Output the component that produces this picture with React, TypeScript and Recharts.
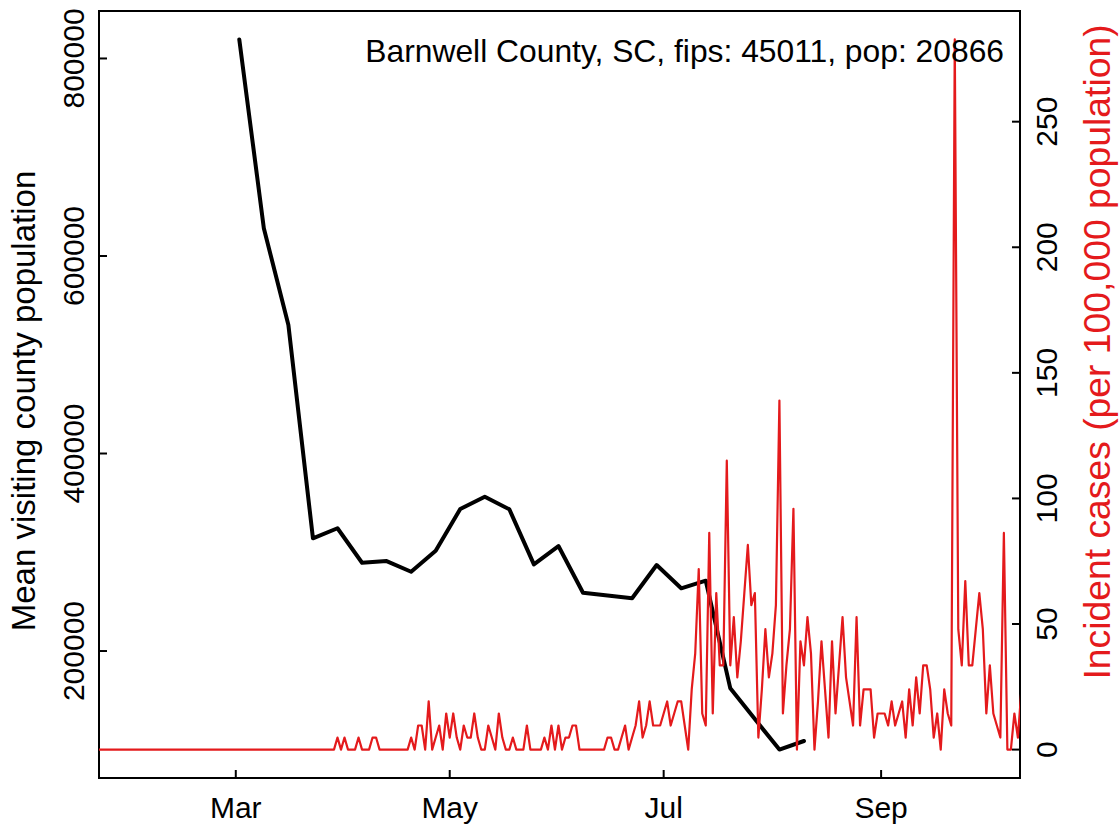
import React from 'react';
import { ComposedChart, Line, XAxis, YAxis, ReferenceArea } from 'recharts';

const FONT = '"Liberation Sans", Arial, Helvetica, sans-serif';
const RED = '#E41A1C';

const POPULATION = 20866;
const TITLE = 'Barnwell County, SC, fips: 45011, pop: 20866';
const LEFT_TITLE = 'Mean visiting county population';
const RIGHT_TITLE = 'Incident cases (per 100,000 population)';

// daily new cases, day 0 = 2020-01-22
const dailyCases: number[] = [
  0, 0, 0, 0, 0, 0, 0, 0, 0, 0,
  0, 0, 0, 0, 0, 0, 0, 0, 0, 0,
  0, 0, 0, 0, 0, 0, 0, 0, 0, 0,
  0, 0, 0, 0, 0, 0, 0, 0, 0, 0,
  0, 0, 0, 0, 0, 0, 0, 0, 0, 0,
  0, 0, 0, 0, 0, 0, 0, 0, 0, 0,
  0, 0, 0, 0, 0, 0, 0, 0,
  1, 0, 1, 0, 0, 0, 1, 0, 0, 0,
  1, 1, 0, 0, 0, 0, 0, 0, 0, 0,
  0, 1, 0, 2, 2, 0, 4, 0, 1, 2,
  0, 3, 1, 3, 1, 0, 2, 1, 1, 3,
  1, 0, 0, 2, 1, 0,
  3, 1, 0, 0, 1, 0, 0, 0, 2, 0,
  0, 0, 0, 1, 0, 2, 0, 2, 0, 1,
  1, 2, 2, 0, 0, 0, 0, 0, 0, 0,
  0, 1, 1, 0, 0, 1, 2, 0, 1, 2,
  4, 1, 2, 4, 2, 2, 2, 3, 4, 2,
  3, 4, 4, 2, 0,
  5, 8, 15, 3, 2, 18, 3, 13, 7, 7,
  24, 7, 11, 6, 9, 13, 17, 12, 13, 1,
  5, 10, 6, 8, 12, 29, 3, 7, 10, 20,
  0, 9, 7, 11, 8, 0, 4, 9, 5, 1,
  9, 3, 7, 11, 6, 4, 2, 11, 2, 5,
  5, 5, 1, 3, 3, 3, 2, 4, 2, 3,
  4, 1, 5, 2, 6, 3, 7, 7, 5, 1,
  3, 0, 5, 3, 2, 59, 10, 7, 14, 7,
  7, 10, 13, 10, 3, 7, 3, 2, 1, 18,
  0, 0, 3, 1, 5,
];

// weekly mean visiting population (weeks starting Mondays, day index from 2020-01-22)
const weekStartDays: number[] = [40, 47, 54, 61, 68, 75, 82, 89, 96, 103, 110, 117, 124, 131, 138, 145, 152, 159, 166, 173, 180, 187, 194, 201];
const meanVisitingPop: number[] = [
  819300, 628100, 530100, 314100, 324300, 289400, 291100, 280300, 301600, 343800,
  356300, 343500, 287800, 306300, 259000, 256200, 253400, 287100, 263500, 271200,
  162200, 131100, 100200, 108900,
];

const monthTickDays: number[] = [39, 100, 161, 223];
const monthTickLabels: string[] = ['Mar', 'May', 'Jul', 'Sep'];
const leftTickValues: number[] = [200000, 400000, 600000, 800000];
const rightTickValues: number[] = [0, 50, 100, 150, 200, 250];
const xDomain: [number, number] = [0, 262.6];

const rows = dailyCases.map((c, i) => {
  const row: { day: number; incidence: number; pop?: number } = {
    day: i,
    incidence: (c * 100000) / POPULATION,
  };
  const w = weekStartDays.indexOf(i);
  if (w >= 0) row.pop = meanVisitingPop[w];
  return row;
});

const popMin = Math.min(...meanVisitingPop);
const popMax = Math.max(...meanVisitingPop);
const popPad = (popMax - popMin) * 0.04;
const leftDomain: [number, number] = [popMin - popPad, popMax + popPad];

const incMax = Math.max(...rows.map((r) => r.incidence));
const rightDomain: [number, number] = [-incMax * 0.04, incMax * 1.04];

const W = 1119;
const H = 827;
const PLOT_LEFT = 99;
const PLOT_RIGHT = 1020;
const PLOT_TOP = 11;
const PLOT_BOTTOM = 778;
const TICK_LEN = 8;
const TICK_FONT = 30;

const BottomTick = (props: any) => {
  const { x, payload } = props;
  const idx = monthTickDays.indexOf(payload.value);
  return (
    <g>
      <line x1={x} x2={x} y1={PLOT_BOTTOM} y2={PLOT_BOTTOM - TICK_LEN} stroke="#000" strokeWidth={2} />
      <text x={x} y={818} textAnchor="middle" fontSize={TICK_FONT} fontFamily={FONT} fill="#000">
        {idx >= 0 ? monthTickLabels[idx] : ''}
      </text>
    </g>
  );
};

const LeftTick = (props: any) => {
  const { y, payload } = props;
  const tx = 84;
  return (
    <g>
      <line x1={PLOT_LEFT} x2={PLOT_LEFT + TICK_LEN} y1={y} y2={y} stroke="#000" strokeWidth={2} />
      <text x={tx} y={y} transform={`rotate(-90 ${tx} ${y})`} textAnchor="middle" fontSize={TICK_FONT} fontFamily={FONT} fill="#000">
        {String(payload.value)}
      </text>
    </g>
  );
};

const RightTick = (props: any) => {
  const { y, payload } = props;
  const tx = 1057;
  return (
    <g>
      <line x1={PLOT_RIGHT} x2={PLOT_RIGHT - TICK_LEN} y1={y} y2={y} stroke="#000" strokeWidth={2} />
      <text x={tx} y={y} transform={`rotate(-90 ${tx} ${y})`} textAnchor="middle" fontSize={TICK_FONT} fontFamily={FONT} fill="#000">
        {String(payload.value)}
      </text>
    </g>
  );
};

export default function App() {
  return (
    <div style={{ position: 'absolute', left: 0, top: 0, width: W, height: H, background: '#fff' }}>
      <ComposedChart
        width={W}
        height={H}
        data={rows}
        margin={{ top: PLOT_TOP, right: 0, bottom: 0, left: 0 }}
      >
        <XAxis
          dataKey="day"
          type="number"
          domain={xDomain}
          allowDataOverflow
          ticks={monthTickDays}
          interval={0}
          tick={(p: any) => <BottomTick {...p} />}
          tickLine={false}
          axisLine={false}
          height={H - PLOT_BOTTOM}
        />
        <YAxis
          yAxisId="left"
          type="number"
          domain={leftDomain}
          allowDataOverflow
          ticks={leftTickValues}
          interval={0}
          tick={(p: any) => <LeftTick {...p} />}
          tickLine={false}
          axisLine={false}
          width={PLOT_LEFT}
        />
        <YAxis
          yAxisId="right"
          orientation="right"
          type="number"
          domain={rightDomain}
          allowDataOverflow
          ticks={rightTickValues}
          interval={0}
          tick={(p: any) => <RightTick {...p} />}
          tickLine={false}
          axisLine={false}
          width={W - PLOT_RIGHT}
        />
        <ReferenceArea
          yAxisId="left"
          x1={xDomain[0]}
          x2={xDomain[1]}
          y1={leftDomain[0]}
          y2={leftDomain[1]}
          fill="none"
          fillOpacity={0}
          stroke="#000"
          strokeWidth={2}
          ifOverflow="visible"
        />
        <Line
          yAxisId="left"
          type="linear"
          dataKey="pop"
          connectNulls
          dot={false}
          activeDot={false}
          stroke="#000"
          strokeWidth={4}
          strokeLinejoin="round"
          strokeLinecap="round"
          isAnimationActive={false}
        />
        <Line
          yAxisId="right"
          type="linear"
          dataKey="incidence"
          dot={false}
          activeDot={false}
          stroke={RED}
          strokeWidth={2.2}
          strokeLinejoin="round"
          isAnimationActive={false}
        />
      </ComposedChart>
      <svg
        width={W}
        height={H}
        style={{ position: 'absolute', left: 0, top: 0, pointerEvents: 'none' }}
      >
        <text x={1004} y={61.5} textAnchor="end" fontSize={31.8} fontFamily={FONT} fill="#000">
          {TITLE}
        </text>
        <text x={35} y={401} transform="rotate(-90 35 401)" textAnchor="middle" fontSize={33} fontFamily={FONT} fill="#000">
          {LEFT_TITLE}
        </text>
        <text x={1110} y={352} transform="rotate(-90 1110 352)" textAnchor="middle" fontSize={37.3} fontFamily={FONT} fill={RED}>
          {RIGHT_TITLE}
        </text>
      </svg>
    </div>
  );
}
